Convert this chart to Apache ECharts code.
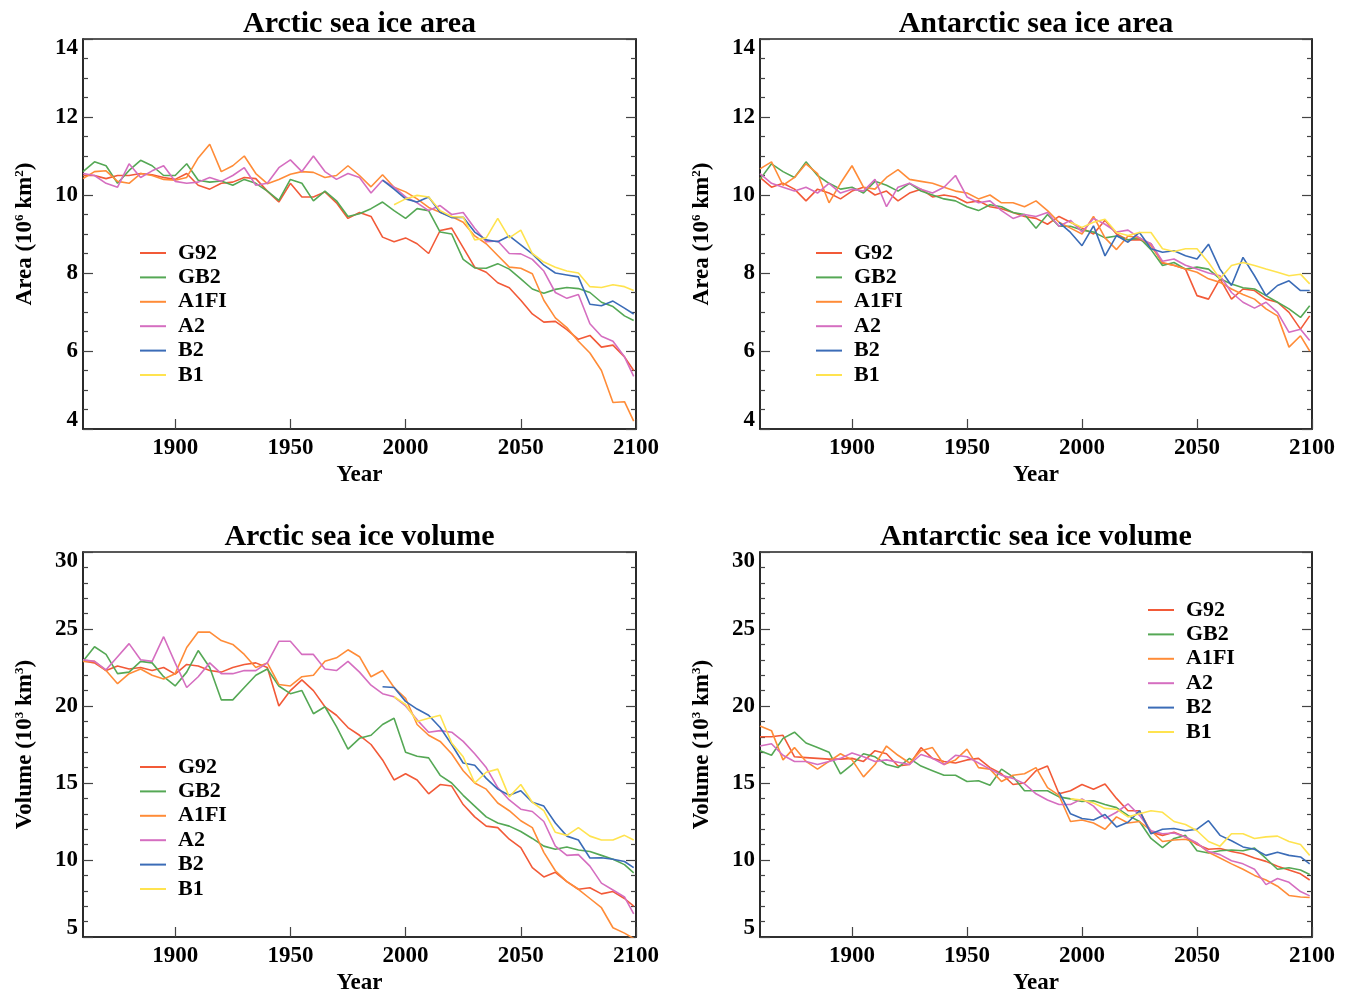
<!DOCTYPE html>
<html>
<head>
<meta charset="utf-8">
<script src="https://cdn.jsdelivr.net/npm/echarts@6/dist/echarts.min.js"></script>
<style>html,body{margin:0;padding:0;background:#fff}#c{width:1350px;height:996px}</style>
</head>
<body>
<div id="c"></div>
<script>
// ---------------- DATA ----------------
const seriesNames = ['G92', 'GB2', 'A1FI', 'A2', 'B2', 'B1'];
const seriesColors = ['#f25a38', '#55a855', '#ff8c38', '#d56ec0', '#3b6cb7', '#ffe34f'];

const yearsAll = [1860,1865,1870,1875,1880,1885,1890,1895,1900,1905,1910,1915,1920,1925,1930,1935,1940,1945,1950,1955,1960,1965,1970,1975,1980,1985,1990,1995,2000,2005,2010,2015,2020,2025,2030,2035,2040,2045,2050,2055,2060,2065,2070,2075,2080,2085,2090,2095,2099];
const yearsB2 = [1990,1995,2000,2005,2010,2015,2020,2025,2030,2035,2040,2045,2050,2055,2060,2065,2070,2075,2080,2085,2090,2095,2099];
const yearsB1 = [1995,2000,2005,2010,2015,2020,2025,2030,2035,2040,2045,2050,2055,2060,2065,2070,2075,2080,2085,2090,2095,2099];

const xTickYears = [1900, 1950, 2000, 2050, 2100];

// Arctic sea ice area (10^6 km^2)
const arcAreaG92 = [10.5,10.5,10.42,10.5,10.5,10.55,10.52,10.45,10.4,10.55,10.25,10.15,10.3,10.33,10.45,10.42,10.1,9.82,10.3,9.95,9.95,10.08,9.8,9.4,9.55,9.45,8.92,8.8,8.9,8.75,8.5,9.09,9.15,8.65,8.15,8.02,7.75,7.62,7.3,6.95,6.74,6.76,6.55,6.3,6.4,6.1,6.15,5.85,5.5];
const arcAreaGB2 = [10.6,10.85,10.75,10.3,10.63,10.89,10.75,10.5,10.5,10.8,10.38,10.33,10.36,10.25,10.4,10.3,10.1,9.86,10.4,10.3,9.85,10.1,9.85,9.45,9.52,9.65,9.82,9.6,9.4,9.65,9.6,9.05,9.0,8.35,8.13,8.12,8.24,8.1,7.85,7.59,7.48,7.58,7.63,7.6,7.5,7.25,7.14,6.9,6.78];
const arcAreaA1FI = [10.42,10.6,10.62,10.35,10.3,10.55,10.5,10.4,10.38,10.45,10.95,11.3,10.6,10.75,11.0,10.55,10.29,10.4,10.53,10.6,10.58,10.45,10.5,10.75,10.5,10.21,10.52,10.2,10.08,9.9,9.68,9.56,9.45,9.3,8.95,8.75,8.45,8.15,8.12,7.98,7.3,6.85,6.6,6.25,5.95,5.5,4.68,4.7,4.2];
const arcAreaA2 = [10.55,10.5,10.3,10.2,10.8,10.45,10.62,10.75,10.35,10.3,10.33,10.45,10.35,10.5,10.7,10.25,10.3,10.7,10.9,10.6,11.0,10.6,10.4,10.55,10.45,10.05,10.38,10.2,9.95,9.8,9.6,9.73,9.5,9.55,9.15,8.8,8.82,8.5,8.49,8.35,8.05,7.5,7.35,7.45,6.7,6.38,6.25,5.85,5.35];
const arcAreaB2 = [10.38,10.15,9.9,9.82,9.95,9.56,9.42,9.43,9.05,8.85,8.8,8.95,8.72,8.49,8.2,8.0,7.95,7.9,7.2,7.16,7.28,7.1,6.95];
const arcAreaB1 = [9.75,9.9,9.99,9.95,9.6,9.45,9.43,8.85,8.9,9.4,8.9,9.1,8.5,8.28,8.15,8.05,8.0,7.65,7.63,7.7,7.65,7.55];

// Antarctic sea ice area (10^6 km^2)
const antAreaG92 = [10.45,10.2,10.3,10.15,9.85,10.15,10.05,9.9,10.1,10.2,10.0,10.1,9.85,10.05,10.15,9.95,10.0,9.95,9.8,9.85,9.7,9.65,9.55,9.45,9.4,9.25,9.45,9.3,9.15,9.0,9.35,9.0,8.85,8.85,8.75,8.25,8.2,8.1,7.42,7.33,7.85,7.33,7.59,7.55,7.33,7.25,6.99,6.56,6.9];
const antAreaGB2 = [10.4,10.8,10.6,10.45,10.85,10.5,10.3,10.15,10.2,10.05,10.35,10.25,10.1,10.3,10.1,10.0,9.9,9.85,9.7,9.6,9.75,9.7,9.55,9.5,9.15,9.5,9.2,9.2,9.1,9.05,8.9,8.95,8.85,8.9,8.6,8.19,8.27,8.1,8.15,8.1,7.85,7.72,7.62,7.59,7.42,7.25,7.08,6.86,7.16];
const antAreaA1FI = [10.67,10.85,10.25,10.45,10.8,10.55,9.8,10.3,10.75,10.2,10.15,10.45,10.65,10.4,10.35,10.3,10.2,10.1,10.05,9.9,10.0,9.8,9.8,9.7,9.85,9.6,9.3,9.15,9.0,9.45,8.9,8.6,8.95,8.9,8.7,8.27,8.19,8.1,8.02,7.85,7.76,7.59,7.45,7.33,7.08,6.9,6.1,6.39,6.0];
const antAreaA2 = [10.55,10.3,10.2,10.1,10.2,10.05,10.3,10.05,10.15,10.1,10.4,9.7,10.2,10.3,10.15,10.05,10.2,10.5,9.95,9.8,9.85,9.6,9.4,9.5,9.45,9.55,9.2,9.35,9.05,9.4,9.25,9.05,9.1,8.9,8.75,8.3,8.36,8.2,8.1,8.0,7.93,7.5,7.25,7.1,7.25,6.99,6.48,6.56,6.27];
const antAreaB2 = [9.3,9.04,8.7,9.21,8.44,8.96,8.79,9.04,8.62,8.53,8.57,8.44,8.36,8.74,8.1,7.68,8.4,7.93,7.42,7.68,7.8,7.55,7.55];
const antAreaB1 = [9.3,9.17,9.3,9.38,9.04,8.96,9.04,9.04,8.62,8.55,8.62,8.62,8.27,7.85,8.19,8.27,8.19,8.1,8.02,7.93,7.97,7.72];

// Arctic sea ice volume (10^3 km^3)
const arcVolG92 = [22.92,22.8,22.3,22.6,22.4,22.5,22.3,22.5,22.07,22.7,22.6,22.3,22.2,22.5,22.7,22.8,22.5,20.0,21.0,21.7,21.0,19.95,19.4,18.6,18.1,17.5,16.5,15.2,15.6,15.2,14.3,14.9,14.8,13.6,12.8,12.2,12.1,11.35,10.8,9.5,8.9,9.2,8.6,8.1,8.2,7.8,7.95,7.5,7.0];
const arcVolGB2 = [22.9,23.85,23.35,22.1,22.2,22.9,22.8,21.9,21.3,22.2,23.6,22.5,20.4,20.4,21.2,22.0,22.4,21.3,20.8,21.0,19.5,19.95,18.66,17.2,17.9,18.1,18.8,19.2,17.0,16.74,16.63,15.5,15.0,14.2,13.5,12.8,12.4,12.2,11.85,11.4,10.9,10.7,10.85,10.65,10.55,10.3,10.05,9.7,9.17];
const arcVolA1FI = [22.9,22.9,22.3,21.45,22.1,22.4,22.0,21.75,22.1,23.8,24.8,24.8,24.25,24.0,23.35,22.5,22.8,21.4,21.3,21.9,22.0,22.9,23.13,23.65,23.2,21.9,22.3,21.2,20.5,18.8,18.1,17.7,16.9,15.8,15.0,14.6,13.7,13.2,12.55,12.1,10.5,9.3,8.6,8.1,7.5,6.9,5.6,5.25,4.9];
const arcVolA2 = [23.0,22.9,22.35,23.2,24.05,23.0,22.9,24.5,22.8,21.2,21.9,22.8,22.1,22.1,22.3,22.3,22.8,24.2,24.2,23.35,23.35,22.4,22.3,22.9,22.2,21.35,20.8,20.6,20.0,19.1,18.3,18.4,18.3,17.7,16.9,16.0,14.7,13.9,13.3,13.15,12.5,10.9,10.3,10.35,9.6,8.5,8.05,7.6,6.5];
const arcVolB2 = [21.25,21.2,20.3,19.8,19.4,18.6,17.5,16.3,16.15,15.3,14.6,14.2,14.5,13.75,13.5,12.4,11.55,11.3,10.13,10.15,10.05,9.9,9.5];
const arcVolB1 = [20.6,20.1,19.0,19.2,19.4,17.6,16.7,15.0,15.7,15.9,14.1,14.9,13.75,13.2,11.8,11.6,12.1,11.55,11.3,11.3,11.6,11.3];

// Antarctic sea ice volume (10^3 km^3)
const antVolG92 = [18.0,18.0,18.1,16.7,16.65,16.6,16.55,16.55,16.6,16.4,17.1,16.9,16.1,16.2,17.3,16.6,16.4,16.3,16.5,16.6,16.0,15.6,14.9,15.0,15.8,16.1,14.3,14.5,14.9,14.6,14.93,14.0,13.2,13.2,11.8,11.6,11.8,11.5,11.0,10.7,10.75,10.55,10.4,10.13,9.91,9.6,9.35,9.1,8.7];
const antVolGB2 = [17.1,16.8,17.9,18.3,17.6,17.3,17.0,15.6,16.2,16.9,16.7,16.2,16.0,16.6,16.1,15.8,15.5,15.5,15.1,15.15,14.85,15.9,15.4,14.5,14.5,14.5,14.1,13.97,13.8,13.85,13.6,13.4,12.9,12.5,11.4,10.8,11.4,11.6,10.6,10.45,10.6,10.65,10.6,10.77,10.1,9.4,9.5,9.35,9.06];
const antVolA1FI = [18.7,18.4,16.5,17.3,16.4,15.9,16.4,16.9,16.5,15.4,16.2,17.4,16.8,16.3,17.1,17.3,16.2,16.5,17.2,16.0,15.9,15.1,15.5,15.6,16.0,14.7,14.2,12.5,12.6,12.4,12.0,12.8,12.4,12.5,11.9,11.2,11.3,11.35,11.1,10.5,10.13,9.75,9.4,9.0,8.7,8.3,7.7,7.6,7.56];
const antVolA2 = [17.4,17.55,16.8,16.4,16.4,16.2,16.4,16.6,16.95,16.7,16.4,16.5,16.35,16.2,16.85,16.6,16.2,16.8,16.7,16.3,15.9,15.5,15.3,14.95,14.3,13.9,13.6,13.6,13.97,13.5,12.7,13.1,13.65,12.9,11.9,11.7,11.75,11.5,11.1,10.55,10.35,9.95,9.75,9.4,8.4,8.8,8.55,7.95,7.67];
const antVolB2 = [14.4,13.0,12.7,12.6,12.95,12.15,12.45,13.2,11.7,12.0,12.05,11.9,12.0,12.55,11.6,11.25,10.85,10.7,10.3,10.5,10.3,10.2,9.75];
const antVolB1 = [13.97,13.9,13.7,13.35,13.3,12.8,13.0,13.2,13.1,12.5,12.3,11.9,11.2,10.9,11.7,11.7,11.4,11.5,11.55,11.2,11.0,10.3];

const panelTitles = ['Arctic sea ice area', 'Antarctic sea ice area', 'Arctic sea ice volume', 'Antarctic sea ice volume'];

// ---------------- CHART ----------------
const F = '"Liberation Serif", "DejaVu Serif", serif';
const panels = [
  {grid: {left: 83, top: 39, width: 553, height: 390}, y: {min: 4, max: 14, interval: 2, minor: 4}, yname: 'Area (10{s|6} km{s|2})',
   legend: {left: 140, top: 242},
   data: [arcAreaG92, arcAreaGB2, arcAreaA1FI, arcAreaA2, arcAreaB2, arcAreaB1]},
  {grid: {left: 760, top: 39, width: 552, height: 390}, y: {min: 4, max: 14, interval: 2, minor: 4}, yname: 'Area (10{s|6} km{s|2})',
   legend: {left: 816, top: 242},
   data: [antAreaG92, antAreaGB2, antAreaA1FI, antAreaA2, antAreaB2, antAreaB1]},
  {grid: {left: 83, top: 552, width: 553, height: 390}, y: {min: 5, max: 30, interval: 5, minor: 5}, yname: 'Volume (10{s|3} km{s|3})',
   legend: {left: 140, top: 756},
   data: [arcVolG92, arcVolGB2, arcVolA1FI, arcVolA2, arcVolB2, arcVolB1]},
  {grid: {left: 760, top: 552, width: 552, height: 390}, y: {min: 5, max: 30, interval: 5, minor: 5}, yname: 'Volume (10{s|3} km{s|3})',
   legend: {left: 1148, top: 599},
   data: [antVolG92, antVolGB2, antVolA1FI, antVolA2, antVolB2, antVolB1]}
];
const yearSets = [yearsAll, yearsAll, yearsAll, yearsAll, yearsB2, yearsB1];

const grid = [], xAxis = [], yAxis = [], series = [], legend = [], title = [];
const txt = {fontFamily: F, fontWeight: 'bold', color: '#000'};

panels.forEach((p, i) => {
  grid.push(Object.assign({show: true, borderColor: '#222', borderWidth: 1.6, backgroundColor: 'transparent'}, p.grid));
  title.push({
    text: panelTitles[i], left: p.grid.left + p.grid.width / 2, top: p.grid.top - 30, textAlign: 'center', padding: 0,
    textStyle: Object.assign({fontSize: 30}, txt)
  });
  xAxis.push({
    gridIndex: i, type: 'value', min: 1860, max: 2100,
    axisLine: {show: true, onZero: false, lineStyle: {color: '#222', width: 1.6}},
    axisTick: {show: true, inside: true, length: 10, customValues: xTickYears, lineStyle: {color: '#444', width: 1.2}},
    axisLabel: Object.assign({customValues: xTickYears, fontSize: 23, margin: 8, formatter: v => String(v)}, txt),
    splitLine: {show: false},
    name: 'Year', nameLocation: 'middle', nameGap: 35,
    nameTextStyle: Object.assign({fontSize: 23}, txt)
  });
  const yBase = {
    gridIndex: i, type: 'value', min: p.y.min, max: p.y.max, interval: p.y.interval,
    axisLine: {show: true, onZero: false, lineStyle: {color: '#222', width: 1.6}},
    axisTick: {show: true, inside: true, length: 10, lineStyle: {color: '#444', width: 1.2}},
    minorTick: {show: true, splitNumber: p.y.minor, length: 5, lineStyle: {color: '#444', width: 1.2}},
    splitLine: {show: false}, minorSplitLine: {show: false}
  };
  yAxis.push(Object.assign({}, yBase, {
    position: 'left',
    axisLabel: Object.assign({fontSize: 23, lineHeight: 18, margin: 5, verticalAlignMaxLabel: 'top', verticalAlignMinLabel: 'bottom'}, txt),
    name: p.yname, nameLocation: 'middle', nameGap: 46, nameRotate: 90,
    nameTextStyle: Object.assign({fontSize: 23, lineHeight: 24, rich: {s: {fontSize: 13, fontFamily: F, fontWeight: 'bold', color: '#000', verticalAlign: 'top', lineHeight: 12}}}, txt)
  }));
  yAxis.push(Object.assign({}, yBase, {position: 'right', axisLabel: {show: false}}));
  legend.push({
    left: p.legend.left, top: p.legend.top, orient: 'vertical', icon: 'rect', padding: 0,
    itemWidth: 26, itemHeight: 2, itemGap: 2.4, data: seriesNames, selectedMode: false,
    textStyle: Object.assign({fontSize: 22, lineHeight: 20, padding: [0, 0, 0, 7]}, txt)
  });
  p.data.forEach((vals, k) => {
    const yrs = yearSets[k];
    series.push({
      name: seriesNames[k], type: 'line', xAxisIndex: i, yAxisIndex: i * 2,
      showSymbol: false, symbol: 'none', smooth: false, z: 2 + k,
      lineStyle: {color: seriesColors[k], width: 1.6},
      itemStyle: {color: seriesColors[k]},
      data: vals.map((v, j) => [yrs[j], v])
    });
  });
});

const chart = echarts.init(document.getElementById('c'), null, {renderer: 'canvas'});
chart.setOption({
  animation: false, backgroundColor: '#fff', color: seriesColors,
  title, grid, xAxis, yAxis, legend, series
});
</script>
</body>
</html>
